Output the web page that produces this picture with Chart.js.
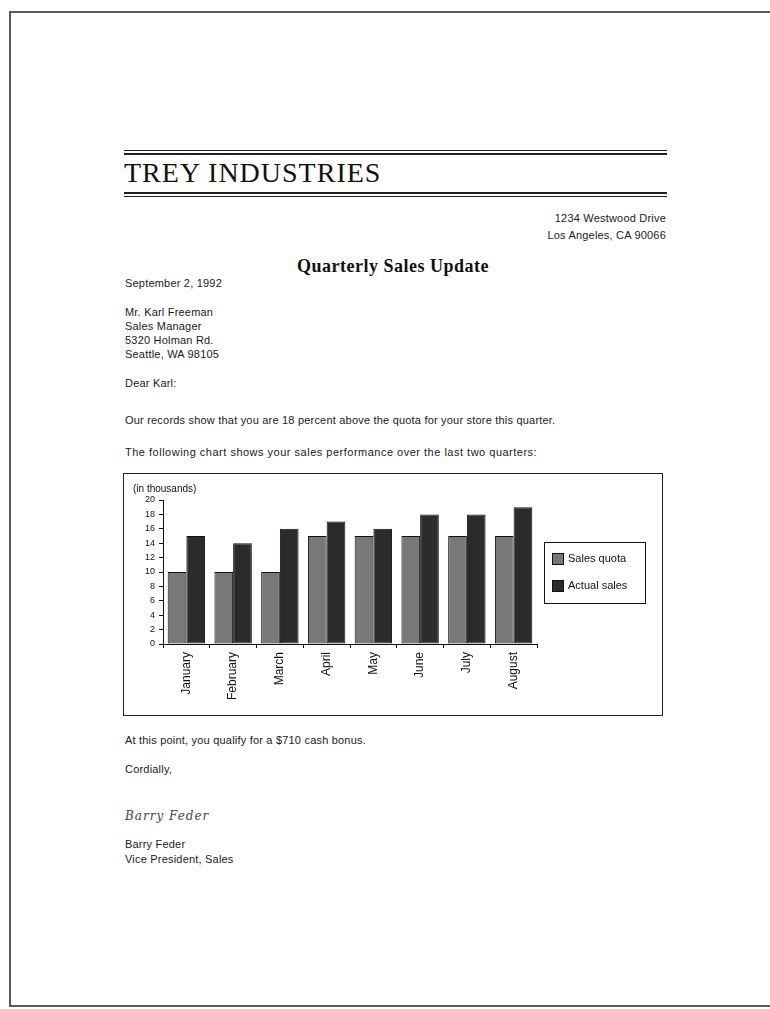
<!DOCTYPE html>
<html lang="en">
<head>
<meta charset="UTF-8">
<title>Quarterly Sales Update</title>
<script src="https://cdn.jsdelivr.net/npm/chart.js@4.4.1/dist/chart.umd.min.js"></script>
<style>
    body {
        margin: 0;
        width: 770px;
        height: 1009px;
        position: relative;
        overflow: hidden;
        background: #fff;
        color: #1a1a1a;
        font-family: Arial, "Liberation Sans", sans-serif;
        font-size: 11px;
        letter-spacing: 0.2px;
    }
    .page {
        position: absolute;
        left: 9px;
        top: 11px;
        right: -10px;
        bottom: 2px;
        border: 2px solid #5a5a5a;
        border-right: none;
    }
    .t {
        position: absolute;
        line-height: 12px;
        white-space: nowrap;
    }
    .rule {
        position: absolute;
        left: 124px;
        width: 543px;
        background: #222;
    }
    #company {
        position: absolute;
        left: 124px;
        top: 158px;
        font-family: "Liberation Serif", "Times New Roman", serif;
        font-size: 28px;
        line-height: 30px;
        letter-spacing: 1px;
        color: #111;
    }
    #heading {
        position: absolute;
        left: 0;
        width: 786px;
        top: 255px;
        text-align: center;
        font-family: "Liberation Serif", "Times New Roman", serif;
        font-weight: bold;
        font-size: 18px;
        line-height: 22px;
        letter-spacing: 0.5px;
        color: #111;
    }
    .right {
        right: 104px;
        text-align: right;
    }
    #sig {
        position: absolute;
        left: 125px;
        top: 809px;
        font-family: "DejaVu Serif", serif;
        font-style: italic;
        font-size: 12px;
        color: #444;
        letter-spacing: 1px;
    }
    #chartBox {
        position: absolute;
        left: 123px;
        top: 473px;
        border: 1px solid #222;
        width: 538px;
        height: 241px;
        letter-spacing: 0;
    }
</style>
</head>
<body>
<div class="page"></div>

<div class="rule" style="top:150px;height:1px;"></div>
<div class="rule" style="top:153px;height:2px;"></div>
<div id="company">TREY INDUSTRIES</div>
<div class="rule" style="top:192px;height:2px;"></div>
<div class="rule" style="top:196px;height:1px;"></div>

<div class="t right" style="top:212px;">1234 Westwood Drive</div>
<div class="t right" style="top:229px;">Los Angeles, CA 90066</div>

<div id="heading">Quarterly Sales Update</div>

<div class="t" style="left:125px;top:277px;">September 2, 1992</div>

<div class="t" style="left:125px;top:306px;">Mr. Karl Freeman</div>
<div class="t" style="left:125px;top:320px;">Sales Manager</div>
<div class="t" style="left:125px;top:334px;">5320 Holman Rd.</div>
<div class="t" style="left:125px;top:348px;">Seattle, WA 98105</div>

<div class="t" style="left:125px;top:377px;">Dear Karl:</div>
<div class="t" style="left:125px;top:414px;">Our records show that you are 18 percent above the quota for your store this quarter.</div>
<div class="t" style="left:125px;top:446px;letter-spacing:0.5px;">The following chart shows your sales performance over the last two quarters:</div>

<div id="chartBox">
    <canvas id="salesChart" width="538" height="241"></canvas>
</div>

<div class="t" style="left:125px;top:734px;">At this point, you qualify for a $710 cash bonus.</div>
<div class="t" style="left:125px;top:763px;">Cordially,</div>
<div id="sig">Barry Feder</div>
<div class="t" style="left:125px;top:838px;">Barry Feder</div>
<div class="t" style="left:125px;top:853px;">Vice President, Sales</div>

<script>
    const months = ['January', 'February', 'March', 'April', 'May', 'June', 'July', 'August'];
    const salesQuota = [10, 10, 10, 15, 15, 15, 15, 15];
    const actualSales = [15, 14, 16, 17, 16, 18, 18, 19];
    const yTicks = { min: 0, max: 20, step: 2 };

    // boxed legend on the right, like the old spreadsheet chart
    const legendBox = {
        id: 'legendBox',
        afterDraw(chart) {
            const ctx = chart.ctx;
            const x = chart.chartArea.right + 7;
            const y = 68;
            ctx.save();
            ctx.strokeStyle = '#111';
            ctx.lineWidth = 1;
            ctx.strokeRect(x + 0.5, y + 0.5, 101, 61);
            ctx.font = '11px Arial, "Liberation Sans", sans-serif';
            ctx.textBaseline = 'middle';
            chart.data.datasets.forEach((ds, i) => {
                const sy = y + 11 + i * 27;
                ctx.fillStyle = ds.backgroundColor;
                ctx.fillRect(x + 8, sy, 11, 11);
                ctx.strokeRect(x + 8.5, sy + 0.5, 11, 11);
                ctx.fillStyle = '#111';
                ctx.fillText(ds.label, x + 24, sy + 6);
            });
            ctx.restore();
        }
    };

    new Chart(document.getElementById('salesChart'), {
        type: 'bar',
        data: {
            labels: months,
            datasets: [
                {
                    label: 'Sales quota',
                    data: salesQuota,
                    backgroundColor: '#787878',
                    borderColor: '#111',
                    borderWidth: 1,
                    borderSkipped: false
                },
                {
                    label: 'Actual sales',
                    data: actualSales,
                    backgroundColor: '#2b2b2b',
                    borderColor: '#111',
                    borderWidth: 1,
                    borderSkipped: false
                }
            ]
        },
        options: {
            responsive: false,
            animation: false,
            devicePixelRatio: 1,
            categoryPercentage: 0.8,
            barPercentage: 1.0,
            layout: {
                padding: { left: 9, right: 125, top: 0, bottom: 0 }
            },
            plugins: {
                legend: { display: false },
                tooltip: { enabled: false },
                title: {
                    display: true,
                    text: '(in thousands)',
                    align: 'start',
                    color: '#111',
                    font: { family: 'Arial, "Liberation Sans", sans-serif', size: 10, weight: 'normal' },
                    padding: { top: 9, bottom: 5 }
                }
            },
            scales: {
                x: {
                    border: { color: '#111', width: 1 },
                    grid: {
                        drawOnChartArea: false,
                        color: '#111',
                        tickLength: 4
                    },
                    ticks: {
                        color: '#111',
                        autoSkip: false,
                        minRotation: 90,
                        maxRotation: 90,
                        padding: 4,
                        font: { family: 'Arial, "Liberation Sans", sans-serif', size: 12 }
                    },
                    afterFit(scale) {
                        scale.height = 71;
                    }
                },
                y: {
                    min: yTicks.min,
                    max: yTicks.max,
                    border: { color: '#111', width: 1 },
                    grid: {
                        drawOnChartArea: false,
                        color: '#111',
                        tickLength: 4
                    },
                    ticks: {
                        stepSize: yTicks.step,
                        color: '#111',
                        padding: 4,
                        font: { family: 'Arial, "Liberation Sans", sans-serif', size: 9 }
                    },
                    afterFit(scale) {
                        scale.width = 30;
                    }
                }
            }
        },
        plugins: [legendBox]
    });
</script>
</body>
</html>
